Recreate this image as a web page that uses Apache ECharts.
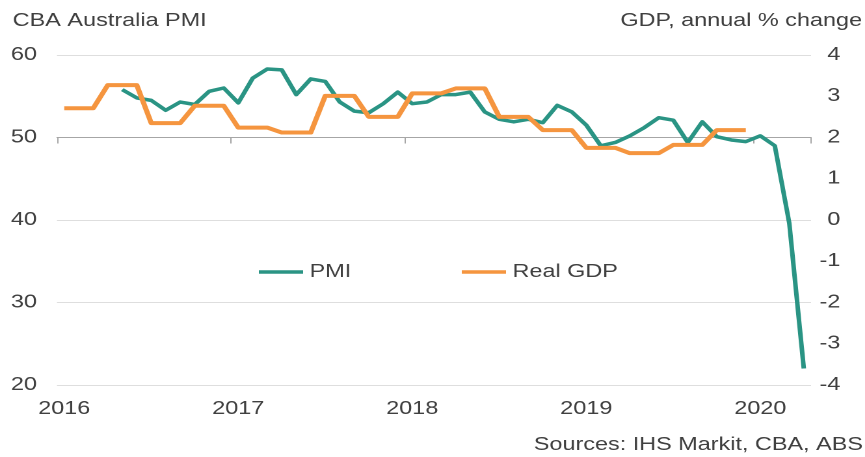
<!DOCTYPE html>
<html>
<head>
<meta charset="utf-8">
<title>CBA Australia PMI</title>
<script src="https://cdn.jsdelivr.net/npm/echarts@6/dist/echarts.min.js"></script>
<style>
  html, body { margin: 0; padding: 0; background: #ffffff; overflow: hidden; }
  /* The chart is laid out on a narrower canvas and stretched to the page width,
     which gives the wide-set type and lines of this chart style. */
  #chart { width: 665px; height: 457px; transform: scaleX(1.3008); transform-origin: 0 0; }
</style>
</head>
<body>
<div id="chart"></div>
<script>
// Monthly categories, Jan 2016 – Apr 2020
const months = [
  '2016-01','2016-02','2016-03','2016-04','2016-05','2016-06','2016-07','2016-08','2016-09','2016-10','2016-11','2016-12',
  '2017-01','2017-02','2017-03','2017-04','2017-05','2017-06','2017-07','2017-08','2017-09','2017-10','2017-11','2017-12',
  '2018-01','2018-02','2018-03','2018-04','2018-05','2018-06','2018-07','2018-08','2018-09','2018-10','2018-11','2018-12',
  '2019-01','2019-02','2019-03','2019-04','2019-05','2019-06','2019-07','2019-08','2019-09','2019-10','2019-11','2019-12',
  '2020-01','2020-02','2020-03','2020-04'
];

// CBA Australia composite PMI (left axis), monthly
const pmi = [
  null, null, null, null, 55.8, 54.8, 54.5, 53.3, 54.3, 54.0, 55.6, 56.0,
  54.2, 57.2, 58.3, 58.2, 55.2, 57.1, 56.8, 54.3, 53.2, 53.0, 54.1, 55.5,
  54.1, 54.3, 55.2, 55.2, 55.5, 53.1, 52.2, 51.9, 52.2, 51.8, 53.9, 53.1,
  51.5, 49.0, 49.4, 50.2, 51.2, 52.4, 52.1, 49.4, 51.9, 50.1, 49.7, 49.5,
  50.2, 49.0, 39.6, 22.0
];

// Real GDP, annual % change (right axis), quarterly from 2016 Q1
const gdpQuarters = ['2016Q1','2016Q2','2016Q3','2016Q4','2017Q1','2017Q2','2017Q3','2017Q4',
                     '2018Q1','2018Q2','2018Q3','2018Q4','2019Q1','2019Q2','2019Q3','2019Q4'];
const gdp = [2.71, 3.27, 2.35, 2.77, 2.24, 2.12, 3.01, 2.50,
             3.07, 3.19, 2.50, 2.18, 1.75, 1.62, 1.82, 2.18];

const yearLabels = ['2016', '2017', '2018', '2019', '2020'];
const pmiTicks = [20, 30, 40, 50, 60];
const gdpTicks = [-4, -3, -2, -1, 0, 1, 2, 3, 4];

// each quarterly GDP reading holds for the three months of its quarter
const gdpMonthly = months.map((m, i) => {
  const q = Math.floor(i / 3);
  return q < gdp.length ? gdp[q] : null;
});

const TEAL = '#2a9484';
const ORANGE = '#f5953f';
const TEXT = '#404040';
const AXIS_GREY = '#a6a6a6';
const FONT = 'Liberation Sans, Arial, sans-serif';

// plot area (canvas px); the PMI value 50 sits at y = 55 + 330 / 4 = 137.5
const PLOT = { left: 43.8, right: 41.5, top: 55, bottom: 72 };

const chart = echarts.init(document.getElementById('chart'), null, { devicePixelRatio: 2 });

chart.setOption({
  animation: false,
  backgroundColor: '#ffffff',
  grid: [
    { left: PLOT.left, right: PLOT.right, top: PLOT.top, bottom: PLOT.bottom, containLabel: false, outerBoundsMode: 'none' },
    // thin strip holding the horizontal axis where it crosses PMI = 50
    { left: PLOT.left, right: PLOT.right, top: 136.5, height: 1, containLabel: false, outerBoundsMode: 'none' }
  ],
  graphic: [
    { type: 'text', x: 9.8, y: 21,
      style: { text: 'CBA Australia PMI', fill: TEXT, font: '18px ' + FONT, textAlign: 'left', textVerticalAlign: 'middle' } },
    { type: 'text', x: 662.7, y: 21,
      style: { text: 'GDP, annual % change', fill: TEXT, font: '18px ' + FONT, textAlign: 'right', textVerticalAlign: 'middle' } },
    { type: 'text', x: 663.4, y: 445,
      style: { text: 'Sources: IHS Markit, CBA, ABS', fill: TEXT, font: '18px ' + FONT, textAlign: 'right', textVerticalAlign: 'middle' } }
  ],
  legend: [
    { data: ['PMI'], left: 194, top: 258, icon: 'rect', itemWidth: 34, itemHeight: 3.5,
      textStyle: { color: TEXT, fontSize: 18, fontFamily: FONT } },
    { data: ['Real GDP'], left: 350, top: 258, icon: 'rect', itemWidth: 34, itemHeight: 3.5,
      textStyle: { color: TEXT, fontSize: 18, fontFamily: FONT } }
  ],
  xAxis: [
    {
      gridIndex: 0,
      type: 'category',
      data: months,
      boundaryGap: true,
      position: 'bottom',
      axisLine: { show: false },
      axisTick: { show: false },
      axisLabel: {
        interval: (i) => i % 12 === 0,
        formatter: (v) => yearLabels[yearLabels.indexOf(v.slice(0, 4))],
        margin: 15, color: TEXT, fontSize: 18, fontFamily: FONT
      },
      splitLine: { show: false }
    },
    {
      gridIndex: 1,
      type: 'category',
      data: months,
      boundaryGap: true,
      position: 'bottom',
      axisLine: { show: true, lineStyle: { color: AXIS_GREY, width: 1 } },
      axisTick: { show: true, interval: (i) => i % 12 === 0, length: 6, lineStyle: { color: AXIS_GREY, width: 1 } },
      axisLabel: { show: false },
      splitLine: { show: false }
    }
  ],
  yAxis: [
    {
      gridIndex: 0, type: 'value', position: 'left',
      min: pmiTicks[0], max: pmiTicks[pmiTicks.length - 1], interval: 10,
      axisLine: { show: false }, axisTick: { show: false },
      axisLabel: { margin: 15.4, color: TEXT, fontSize: 18, fontFamily: FONT },
      splitLine: { show: true, lineStyle: { color: '#dedede', width: 1 } }
    },
    {
      gridIndex: 0, type: 'value', position: 'right',
      min: gdpTicks[0], max: gdpTicks[gdpTicks.length - 1], interval: 1,
      axisLine: { show: false }, axisTick: { show: false },
      axisLabel: { margin: 22.5, align: 'right', color: TEXT, fontSize: 18, fontFamily: FONT },
      splitLine: { show: false }
    },
    {
      gridIndex: 1, type: 'value', min: 0, max: 1, show: false
    }
  ],
  series: [
    {
      name: 'PMI', type: 'line', data: pmi, xAxisIndex: 0, yAxisIndex: 0,
      symbol: 'none', connectNulls: false, z: 3,
      lineStyle: { color: TEAL, width: 3.5, join: 'round' },
      itemStyle: { color: TEAL }
    },
    {
      name: 'Real GDP', type: 'line', data: gdpMonthly, xAxisIndex: 0, yAxisIndex: 1,
      symbol: 'none', connectNulls: false, z: 4,
      lineStyle: { color: ORANGE, width: 4, join: 'round' },
      itemStyle: { color: ORANGE }
    }
  ]
});
</script>
</body>
</html>
